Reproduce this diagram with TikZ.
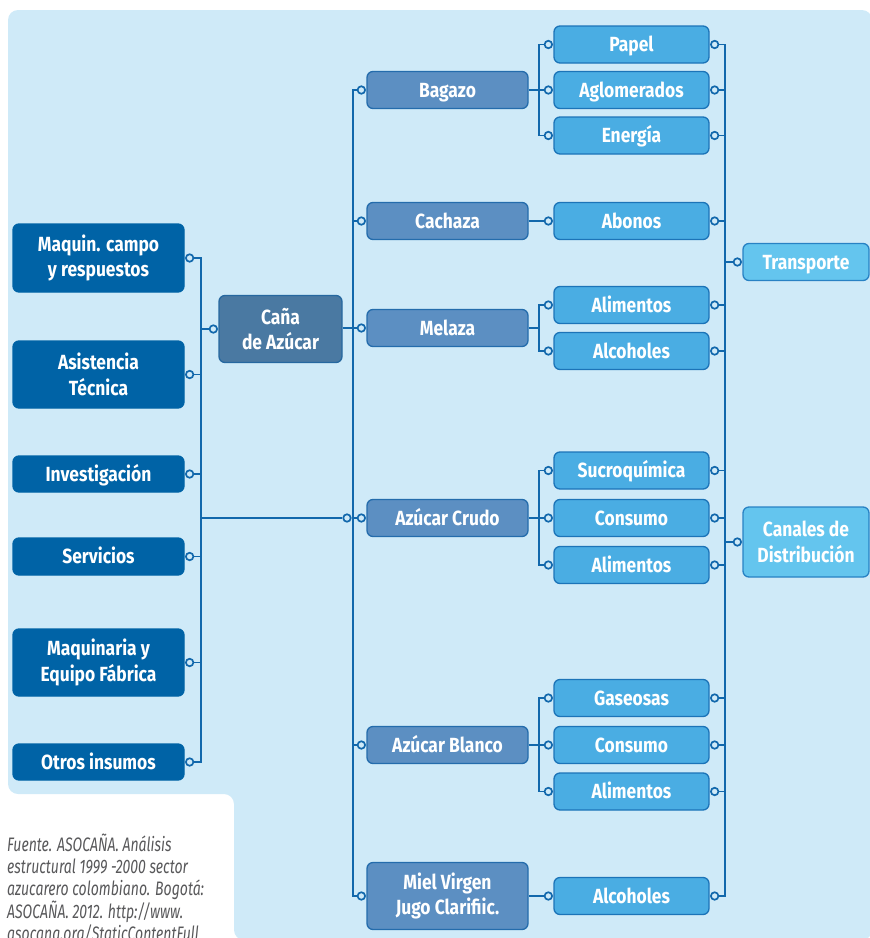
\documentclass[tikz,border=0pt]{standalone}
\usepackage{fontspec}
\setmainfont{Fira Sans}[FakeStretch=0.85]
\newfontfamily\notefont{Fira Sans}[FakeStretch=0.72]
\definecolor{bgc}{RGB}{207,234,248}
\definecolor{linec}{RGB}{18,104,172}
\definecolor{leftc}{RGB}{0,99,166}
\definecolor{canac}{RGB}{74,121,162}
\definecolor{canab}{RGB}{38,104,160}
\definecolor{midc}{RGB}{92,143,194}
\definecolor{midb}{RGB}{36,108,172}
\definecolor{rightc}{RGB}{74,173,227}
\definecolor{rightb}{RGB}{28,116,184}
\definecolor{farc}{RGB}{100,197,238}
\definecolor{farb}{RGB}{40,130,196}
\definecolor{notec}{RGB}{88,88,90}
\tikzset{
  basebox/.style={rounded corners=6pt, line width=1.3pt, text=white, align=center, inner sep=0pt,
    font=\bfseries\fontsize{20.5}{25.5}\selectfont},
  oneline/.style={text height=14pt, text depth=0pt},
  lbox/.style={basebox, draw=leftc, fill=leftc, minimum width=171pt},
  cbox/.style={basebox, draw=canab, fill=canac, minimum width=123pt, minimum height=67pt},
  mbox/.style={basebox, draw=midb, fill=midc, minimum width=161pt, minimum height=37pt},
  rbox/.style={basebox, oneline, draw=rightb, fill=rightc, minimum width=155pt, minimum height=37pt},
  tbox/.style={basebox, draw=farb, fill=farc, minimum width=126pt},
  dot/.style={circle, draw=linec, fill=bgc, line width=1.7pt, minimum size=7.5pt, inner sep=0pt},
  conn/.style={draw=linec, line width=1.7pt},
  notetext/.style={anchor=north west, inner sep=0pt, align=left, text=notec,
    font=\notefont\itshape\fontsize{19.5}{22.3}\selectfont}
}
\begin{document}
\begin{tikzpicture}[x=1pt,y=-1pt]
\path[use as bounding box] (0,0) rectangle (870,938);
\clip (0,0) rectangle (870,938);
% background
\fill[bgc, rounded corners=10pt] (8,10) -- (872,10) -- (872,940) -- (234,940) -- (234,794) -- (8,794) -- cycle;

% bus coordinates
\coordinate (bL) at (201,0);
\coordinate (bM) at (353,0);
\coordinate (bB) at (539,0);
\coordinate (bR) at (725,0);

% left boxes
\node[lbox, minimum height=68pt] (maq) at (98.5,258) {Maquin. campo\\y respuestos};
\node[lbox, minimum height=67pt] (asi) at (98.5,374.5) {Asistencia\\Técnica};
\node[lbox, oneline, minimum height=36pt] (inv) at (98.5,474) {Investigación};
\node[lbox, oneline, minimum height=37pt] (ser) at (98.5,556.5) {Servicios};
\node[lbox, minimum height=67pt] (mqe) at (98.5,662.5) {Maquinaria y\\Equipo Fábrica};
\node[lbox, oneline, minimum height=36pt] (otr) at (98.5,762) {Otros insumos};
\foreach \n in {maq,asi,inv,ser,mqe,otr} \node[dot] (\n d) at ([xshift=5pt]\n.east) {};

% cana
\node[cbox] (cana) at (280.5,329) {Caña\\de Azúcar};
\node[dot] (canad) at ([xshift=-5pt]cana.west) {};

% middle boxes
\node[mbox, oneline] (bag) at (447.5,90) {Bagazo};
\node[mbox, oneline] (cach) at (447.5,221) {Cachaza};
\node[mbox, oneline] (mel) at (447.5,328) {Melaza};
\node[mbox, oneline] (cru) at (447.5,518) {Azúcar Crudo};
\node[mbox, oneline] (bla) at (447.5,745) {Azúcar Blanco};
\node[mbox, minimum height=67pt] (miel) at (447.5,896) {Miel Virgen\\Jugo Clarifiic.};
\foreach \n in {bag,cach,mel,cru,bla,miel} \node[dot] (\n d) at ([xshift=-5pt]\n.west) {};
\node[dot] (crux) at (347,518) {};

% right boxes
\node[rbox] (pap) at (631.5,44.5) {Papel};
\node[rbox] (aglo) at (631.5,90) {Aglomerados};
\node[rbox] (ener) at (631.5,135.5) {Energía};
\node[rbox] (abon) at (631.5,221) {Abonos};
\node[rbox] (alima) at (631.5,305) {Alimentos};
\node[rbox] (alcoa) at (631.5,351) {Alcoholes};
\node[rbox] (sucro) at (631.5,470.5) {Sucroquímica};
\node[rbox] (consa) at (631.5,518) {Consumo};
\node[rbox] (alimb) at (631.5,565) {Alimentos};
\node[rbox] (gase) at (631.5,698) {Gaseosas};
\node[rbox] (consb) at (631.5,745) {Consumo};
\node[rbox] (alimc) at (631.5,791.5) {Alimentos};
\node[rbox] (alcob) at (631.5,896) {Alcoholes};
\foreach \n in {pap,aglo,ener,abon,alima,alcoa,sucro,consa,alimb,gase,consb,alimc,alcob}{
  \node[dot] (\n L) at ([xshift=-5pt]\n.west) {};
  \node[dot] (\n R) at ([xshift=5pt]\n.east) {};
}

% far right
\node[tbox, oneline, minimum height=37pt] (trans) at (806,262) {Transporte};
\node[tbox, minimum height=70pt] (canal) at (806,542) {Canales de\\Distribución};
\node[dot] (transd) at ([xshift=-5pt]trans.west) {};
\node[dot] (canald) at ([xshift=-5pt]canal.west) {};

% left connectors
\draw[conn] (maqd.east) -- (maqd -| bL) -- (otrd -| bL) -- (otrd.east);
\foreach \n in {asid,invd,serd,mqed} \draw[conn] (\n.east) -- (\n -| bL);
\draw[conn] (canad.west) -- (canad -| bL);
\draw[conn] (crux -| bL) -- (crux.west);
\draw[conn] (crux.east) -- (crud.west);

% middle bus
\draw[conn] (cana.east |- meld) -- (meld.west);
\draw[conn] (bagd.west) -- (bagd -| bM) -- (mield -| bM) -- (mield.west);
\foreach \n in {cachd,blad} \draw[conn] (\n.west) -- (\n -| bM);

% branches
\draw[conn] (bag.east) -- (agloL.west);
\draw[conn] (papL.west) -- (papL -| bB) -- (enerL -| bB) -- (enerL.west);
\draw[conn] (cach.east) -- (abonL.west);
\draw[conn] (mel.east) -- (mel -| bB);
\draw[conn] (alimaL.west) -- (alimaL -| bB) -- (alcoaL -| bB) -- (alcoaL.west);
\draw[conn] (cru.east) -- (consaL.west);
\draw[conn] (sucroL.west) -- (sucroL -| bB) -- (alimbL -| bB) -- (alimbL.west);
\draw[conn] (bla.east) -- (consbL.west);
\draw[conn] (gaseL.west) -- (gaseL -| bB) -- (alimcL -| bB) -- (alimcL.west);
\draw[conn] (miel.east) -- (alcobL.west);

% right bus
\draw[conn] (papR.east) -- (papR -| bR) -- (alcobR -| bR) -- (alcobR.east);
\foreach \n in {agloR,enerR,abonR,alimaR,alcoaR,sucroR,consaR,alimbR,gaseR,consbR,alimcR}
  \draw[conn] (\n.east) -- (\n -| bR);
\draw[conn] (transd.west) -- (transd -| bR);
\draw[conn] (canald.west) -- (canald -| bR);

% source note
\node[notetext] (src) at (7,833.5) {Fuente. ASOCAÑA. Análisis\\estructural 1999 -2000 sector\\azucarero colombiano. Bogotá:\\ASOCAÑA. 2012. http://www.\\asocana.org/StaticContentFull};
\end{tikzpicture}
\end{document}
